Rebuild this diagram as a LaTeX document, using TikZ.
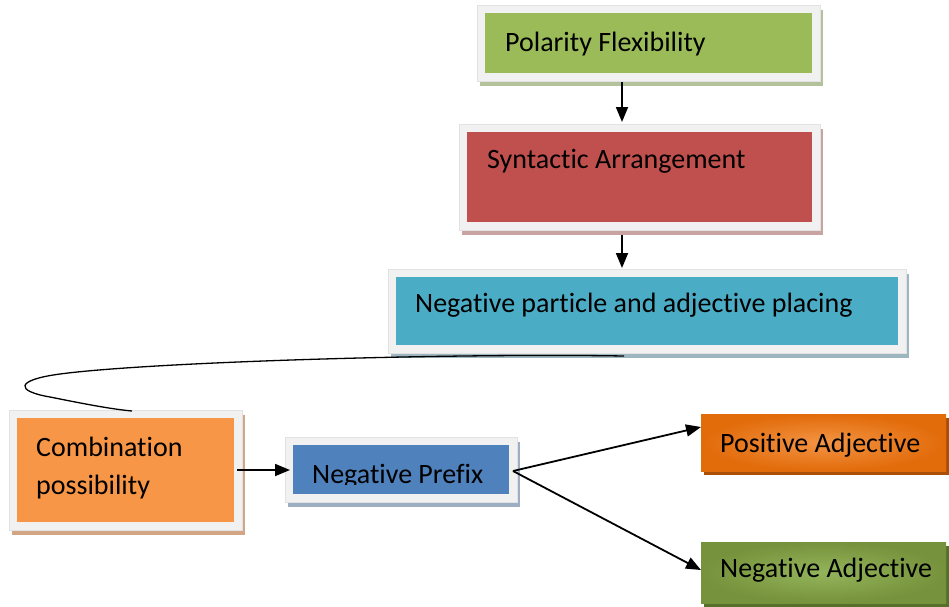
\documentclass[tikz,border=0pt]{standalone}
\usepackage{fontspec}
\setmainfont{Carlito}[Ligatures={NoCommon}]
\usetikzlibrary{arrows.meta,fit}
\definecolor{cgreen}{HTML}{9BBB59}
\definecolor{cred}{HTML}{C0504D}
\definecolor{caqua}{HTML}{4BACC6}
\definecolor{corange}{HTML}{F79646}
\definecolor{cblue}{HTML}{4F81BD}
\definecolor{sgreen}{HTML}{B4C29C}
\definecolor{sred}{HTML}{C9A3A2}
\definecolor{saqua}{HTML}{9DB6C0}
\definecolor{sorange}{HTML}{D2A584}
\definecolor{sblue}{HTML}{9DAEC2}
\definecolor{framegray}{HTML}{F1F1F1}
\definecolor{frameedge}{HTML}{E2E2E2}
\definecolor{posout}{HTML}{E26B0A}
\definecolor{posin}{HTML}{F39444}
\definecolor{posshadow}{HTML}{A94F07}
\definecolor{negout}{HTML}{76923C}
\definecolor{negin}{HTML}{93B45A}
\definecolor{negshadow}{HTML}{56702A}
\newcommand\framedbox[7]{%
  \fill[#7] (#2-8+3,#3-8+5) rectangle (#4+8+3,#5+8+5);
  \node[frm, fit={(#2-8,#3-8) (#4+8,#5+8)}] (#1f) {};
  \node[fit={(#2,#3) (#4,#5)}, inner sep=0, outer sep=0, fill=#6] (#1) {};
}
\begin{document}
\begin{tikzpicture}[x=1pt,y=-1pt,
  frm/.style={fill=framegray, draw=frameedge, line width=0.6pt, inner sep=0, outer sep=0},
  lbl/.style={inner sep=0, anchor=base west, font=\fontsize{28}{32}\selectfont},
  arr/.style={line width=1.8pt, -{Triangle[length=15pt,width=12pt]}},
  conn/.style={line width=1.3pt},
]
\useasboundingbox[fill=white] (0,0) rectangle (949,606);

\framedbox{pf}{485}{13}{812}{73}{cgreen}{sgreen}
\framedbox{sa}{467}{132}{812}{222}{cred}{sred}
\framedbox{np}{396}{277}{898}{345}{caqua}{saqua}
\framedbox{cp}{17}{418}{234}{522}{corange}{sorange}
\framedbox{pre}{293}{445}{509}{494}{cblue}{sblue}

\fill[posshadow] (704,418) rectangle (949,475);
\node[fit={(701,414) (946,471)}, inner sep=0, outer sep=0, inner color=posin, outer color=posout] (pos) {};
\fill[negshadow] (704,546) rectangle (949,607);
\node[fit={(701,542) (946,603)}, inner sep=0, outer sep=0, inner color=negin, outer color=negout] (neg) {};

\node[lbl] (pft) at (505,51) {Polarity Flexibility};
\node[lbl] (sat) at (487,168) {Syntactic Arrangement};
\node[lbl] (npt) at (415,312) {Negative particle and adjective placing};
\node[lbl] (cpt1) at (36,456) {Combination};
\node[lbl] (cpt2) at (36,494) {possibility};
\begin{scope}
  \clip (293,445) rectangle (509,484.5);
  \node[lbl] (pret) at (312,483) {Negative Prefix};
\end{scope}
\node[lbl] (post) at (720,452) {Positive Adjective};
\node[lbl] (negt) at (720,577) {Negative Adjective};

\coordinate (ax) at (622,0);
\coordinate (cs) at (624,0);
\coordinate (ce) at (132,0);
\coordinate (fork) at (513,471);

\draw[arr] ([yshift=-1pt]pff.south -| ax) -- ([yshift=2pt]saf.north -| ax);
\draw[arr] ([yshift=-5pt]saf.south -| ax) -- ([yshift=1pt]npf.north -| ax);
\draw[arr] ([xshift=3pt]cp.east |- 0,470) -- ([xshift=5pt]pref.west |- 0,470);
\draw[arr] (fork) -- (pos.west |- 0,427);
\draw[arr] (fork) -- (neg.west |- 0,570);
\draw[conn] ([yshift=-3pt]npf.south -| cs) .. controls (450,353) and (150,362) .. (60,374)
  .. controls (15,380) and (15,391) .. (50,397)
  .. controls (80,403) and (110,409) .. ([yshift=-1pt]cpf.north -| ce);
\end{tikzpicture}
\end{document}
